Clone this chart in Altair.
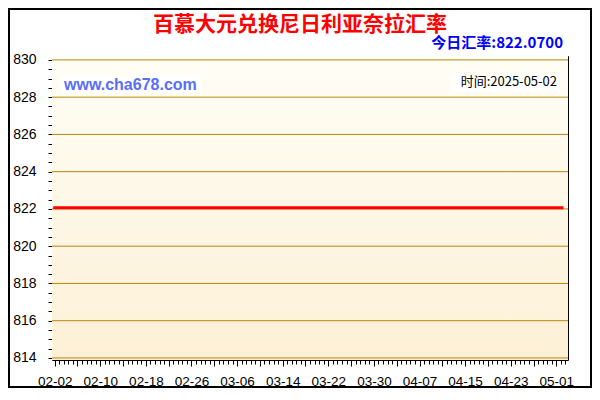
import json
import altair as alt
import pandas as pd

# ---- data ----
dates = ["2025-02-02", "2025-05-02"]
rates = [822.07, 822.07]
tick_labels = ["02-02", "02-10", "02-18", "02-26", "03-06", "03-14",
               "03-22", "03-30", "04-07", "04-15", "04-23", "05-01"]
y_grid = [814, 816, 818, 820, 822, 824, 826, 828, 830]
title_text = "百慕大元兑换尼日利亚奈拉汇率"
today_text = "今日汇率:822.0700"
site_text = "www.cha678.com"
time_text = "时间:2025-05-02"

start = pd.Timestamp(dates[0])
df = pd.DataFrame({"date": pd.to_datetime(dates), "rate": rates})
df["day"] = (df["date"] - start).dt.days

W, H = 516, 304
PAD_L, PAD_T, PAD_R, PAD_B = 44, 48, 24, 28
TOTAL_W = PAD_L + W + PAD_R
TOTAL_H = PAD_T + H + PAD_B
GRID = "#b8860b"

x_vals = [round(i * 0.8, 2) for i in range(0, 113)]
y_vals = [814 + i * 0.5 for i in range(0, 33)]
labels_js = json.dumps(tick_labels)

x_scale = alt.Scale(domain=[-0.47, 90.05], nice=False, zero=False)
y_scale = alt.Scale(domain=[813.89, 830.21], nice=False, zero=False)

major_x = "abs(datum.value/4 - round(datum.value/4)) < 0.01"
label_x = "abs(datum.value/8 - round(datum.value/8)) < 0.01"
major_y = "abs(datum.value/2 - round(datum.value/2)) < 0.01"

x_axis = alt.Axis(
    values=x_vals, orient="bottom", domain=False, grid=False,
    labelExpr=f"{label_x} ? {labels_js}[round(datum.value/8)] : ''",
    labelOverlap=False, labelFlush=False,
    labelFont="Liberation Sans", labelFontSize=13.5, labelColor="#000000",
    labelPadding=8, tickColor="#000000", tickWidth=1,
    tickSize={"condition": {"test": major_x, "value": 6}, "value": 4},
    title=None,
)
y_axis = alt.Axis(
    values=y_vals, orient="left", domain=False, grid=False,
    labelExpr=f"{major_y} ? format(datum.value, 'd') : ''",
    labelOverlap=False, labelFlush=False,
    labelFont="Liberation Sans", labelFontSize=14, labelColor="#000000",
    labelPadding=12, tickColor="#000000", tickWidth=1, tickSize=4,
    title=None,
)

border = alt.Chart(pd.DataFrame({"a": [0]})).mark_rect(
    fill="#ffffff", fillOpacity=0, stroke="#000000", strokeWidth=2
).encode(
    x=alt.value(-PAD_L + 1), x2=alt.value(TOTAL_W - PAD_L - 1),
    y=alt.value(-PAD_T + 1), y2=alt.value(TOTAL_H - PAD_T - 1),
)

bg = alt.Chart(pd.DataFrame({"a": [0]})).mark_rect(
    color=alt.LinearGradient(
        gradient="linear",
        stops=[alt.GradientStop(color="#fffef6", offset=0),
               alt.GradientStop(color="#fdf0d6", offset=1)],
        x1=0, x2=0, y1=0, y2=1,
    )
).encode(x=alt.value(0), x2=alt.value(W), y=alt.value(0), y2=alt.value(H))

grid = alt.Chart(pd.DataFrame({"g": y_grid})).mark_rule(color=GRID, strokeWidth=1).encode(
    y=alt.Y("g:Q", scale=y_scale, axis=y_axis),
    x=alt.value(0), x2=alt.value(W),
)

line = alt.Chart(df).mark_line(color="#ff0000", strokeWidth=3, strokeCap="square").encode(
    x=alt.X("day:Q", scale=x_scale, axis=x_axis),
    y=alt.Y("rate:Q", scale=y_scale, axis=None),
)

helper = alt.Chart(df).mark_line(opacity=0).encode(
    x=alt.X("day:Q", scale=x_scale, axis=alt.Axis(
        values=x_vals, orient="bottom", offset=-H, domain=False, grid=False,
        labels=False, tickColor="#000000", tickSize=3, title=None)),
    y=alt.Y("rate:Q", scale=y_scale, axis=alt.Axis(
        values=y_vals, orient="left", offset=-W, domain=False, grid=False,
        labels=False, tickColor="#000000", tickSize=3, title=None)),
)

def txt(text, x, y, size, color, weight="normal", align="center", font="Noto Sans CJK SC"):
    return alt.Chart(pd.DataFrame({"t": [text]})).mark_text(
        fontSize=size, color=color, fontWeight=weight, align=align,
        baseline="middle", font=font,
    ).encode(text="t:N", x=alt.value(x), y=alt.value(y))

def box(x, x2, y, y2):
    return alt.Chart(pd.DataFrame({"a": [0]})).mark_rect(fill="#ffffff").encode(
        x=alt.value(x), x2=alt.value(x2), y=alt.value(y), y2=alt.value(y2))

site_box = box(9, 149, 19, 37)
time_box = box(399, 507, 18, 36)

title = txt(title_text, 248, -31, 21, "#ff0000", weight="bold")
today = txt(today_text, 511, -13, 15, "#0000ff", weight="bold", align="right")
site = txt(site_text, 12, 29, 16, "#5a6ef8", weight="bold", align="left", font="Liberation Sans")
ttime = txt(time_text, 505, 26, 13, "#000000", align="right")

chart = alt.layer(
    border, bg, grid, line, helper, site_box, time_box, site, ttime, title, today
).resolve_axis(x="independent", y="independent").properties(
    width=W, height=H,
    padding={"left": PAD_L, "top": PAD_T, "right": PAD_R, "bottom": PAD_B},
    autosize=alt.AutoSizeParams(type="none"),
    background="#ffffff",
).configure_view(stroke="#000000", strokeWidth=1)

chart.save("out.html", embed_options={"renderer": "svg", "actions": False})
